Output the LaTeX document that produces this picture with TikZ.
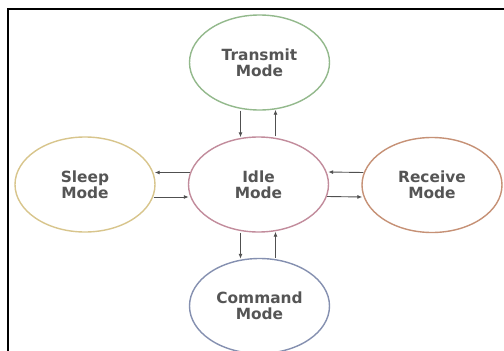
\documentclass[tikz,border=0pt]{standalone}
\usepackage{fontspec}
\setmainfont{DejaVu Sans}
\usetikzlibrary{shapes.geometric,arrows.meta}
\definecolor{txgreen}{HTML}{93B98C}
\definecolor{idlepink}{HTML}{C28C9C}
\definecolor{sleepyel}{HTML}{D8C58C}
\definecolor{recvbrown}{HTML}{C69176}
\definecolor{cmdblue}{HTML}{8590B0}
\definecolor{txtgray}{HTML}{555555}
\definecolor{arrgray}{HTML}{505050}
\tikzset{
  modenode/.style={ellipse, draw, line width=1.4pt, minimum width=140pt, minimum height=95pt,
    inner sep=0pt, align=center, text=txtgray,
    font=\bfseries\fontsize{15.4}{15.8}\selectfont},
  arr/.style={draw=arrgray, line width=0.9pt, -{Latex[length=5pt,width=4pt]}},
  frameline/.style={line width=1.8pt, black}
}
\begin{document}
\begin{tikzpicture}[x=1pt,y=-1pt]
\useasboundingbox (0,0) rectangle (504,351);
\fill[white] (0,0) rectangle (504,351);
\coordinate (fbl) at (7.8,352);
\coordinate (ftl) at (7.8,9.2);
\coordinate (ftr) at (505,9.2);
\draw[frameline] (fbl) -- (ftl) -- (ftr);

\node[modenode, draw=txgreen] (transmit) at (259.5,62.5) {Transmit\\Mode};
\node[modenode, draw=idlepink] (idle) at (258.5,184.5) {Idle\\Mode};
\node[modenode, draw=sleepyel] (sleep) at (85,184.5) {Sleep\\Mode};
\node[modenode, draw=recvbrown] (receive) at (432,185) {Receive\\Mode};
\node[modenode, draw=cmdblue] (command) at (259.5,306) {Command\\Mode};

% Transmit <-> Idle
\draw[arr] ([xshift=-19pt]transmit.south) -- ([xshift=-18pt,yshift=-1pt]idle.north);
\draw[arr] ([xshift=17pt]idle.north) -- ([xshift=16pt,yshift=1pt]transmit.south);
% Idle <-> Command
\draw[arr] ([xshift=-18pt]idle.south) -- ([xshift=-19pt,yshift=-1pt]command.north);
\draw[arr] ([xshift=16pt]command.north) -- ([xshift=17pt,yshift=1pt]idle.south);
% Idle <-> Sleep
\draw[arr] ([yshift=12pt,xshift=2pt]idle.west) -- ([yshift=12pt,xshift=-1pt]sleep.east);
\draw[arr] ([yshift=-12.5pt,xshift=-2pt]sleep.east) -- ([yshift=-12.5pt,xshift=1pt]idle.west);
% Idle <-> Receive
\draw[arr] ([yshift=12.5pt,xshift=2pt]receive.west) -- ([yshift=12.5pt,xshift=-1pt]idle.east);
\draw[arr] ([yshift=-12pt,xshift=-2pt]idle.east) -- ([yshift=-12pt,xshift=1pt]receive.west);
\end{tikzpicture}
\end{document}
